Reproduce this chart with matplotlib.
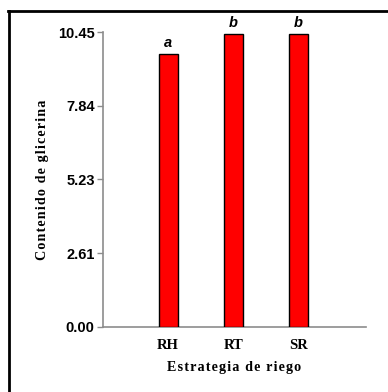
import matplotlib
matplotlib.use("Agg")
import matplotlib.pyplot as plt
from matplotlib.lines import Line2D

categories = ["RH", "RT", "SR"]
values = [9.66, 10.40, 10.40]
groups = ["a", "b", "b"]
yticks = [0.00, 2.61, 5.23, 7.84, 10.45]


def spaced(s):
    # widen the tracking of a label with hair spaces between characters
    return "\u200a".join(s)


fig = plt.figure(figsize=(3.88, 3.92), dpi=100)
ax = fig.add_axes([0.2655, 0.1666, 0.943 - 0.2655, 0.918 - 0.1666])

x = list(range(1, len(categories) + 1))
ax.bar(x, values, width=0.29, color="#ff0000", edgecolor="black", linewidth=1.0, zorder=3)

for xi, v, g in zip(x, values, groups):
    ax.text(xi, v + 0.25, g, ha="center", va="baseline", fontsize=10.5,
            fontweight="bold", fontstyle="italic", family="Liberation Sans")

ax.set_xlim(0, 4.04)
ax.set_ylim(0, 10.45)
ax.set_xticks(x)
ax.set_xticklabels(categories, family="Liberation Serif", fontweight="bold", fontsize=10.5)
ax.set_yticks(yticks)
ax.set_yticklabels([f"{t:.2f}" for t in yticks], family="Liberation Sans",
                   fontweight="bold", fontsize=10.5)

for side in ("top", "right"):
    ax.spines[side].set_visible(False)
for side in ("left", "bottom"):
    ax.spines[side].set_color("#8c8c8c")
    ax.spines[side].set_linewidth(1.2)

ax.tick_params(axis="y", length=4, width=1, color="#8c8c8c", pad=2)
ax.tick_params(axis="x", length=0, pad=9)

ax.set_xlabel(spaced("Estrategia de riego"), family="Liberation Serif",
              fontweight="bold", fontsize=10.2, labelpad=6)
ax.set_ylabel(spaced("Contenido de glicerina"), family="Liberation Serif",
              fontweight="bold", fontsize=10.2)
ax.yaxis.set_label_coords(-0.205, 0.5)

# outer frame lines
fig.add_artist(Line2D([8.5 / 388, 8.5 / 388], [0, 1 - 11 / 392], transform=fig.transFigure,
                      color="black", linewidth=2.0))
fig.add_artist(Line2D([7.5 / 388, 1], [1 - 11 / 392, 1 - 11 / 392], transform=fig.transFigure,
                      color="black", linewidth=2.0))

fig.savefig("out.png", dpi=100)
